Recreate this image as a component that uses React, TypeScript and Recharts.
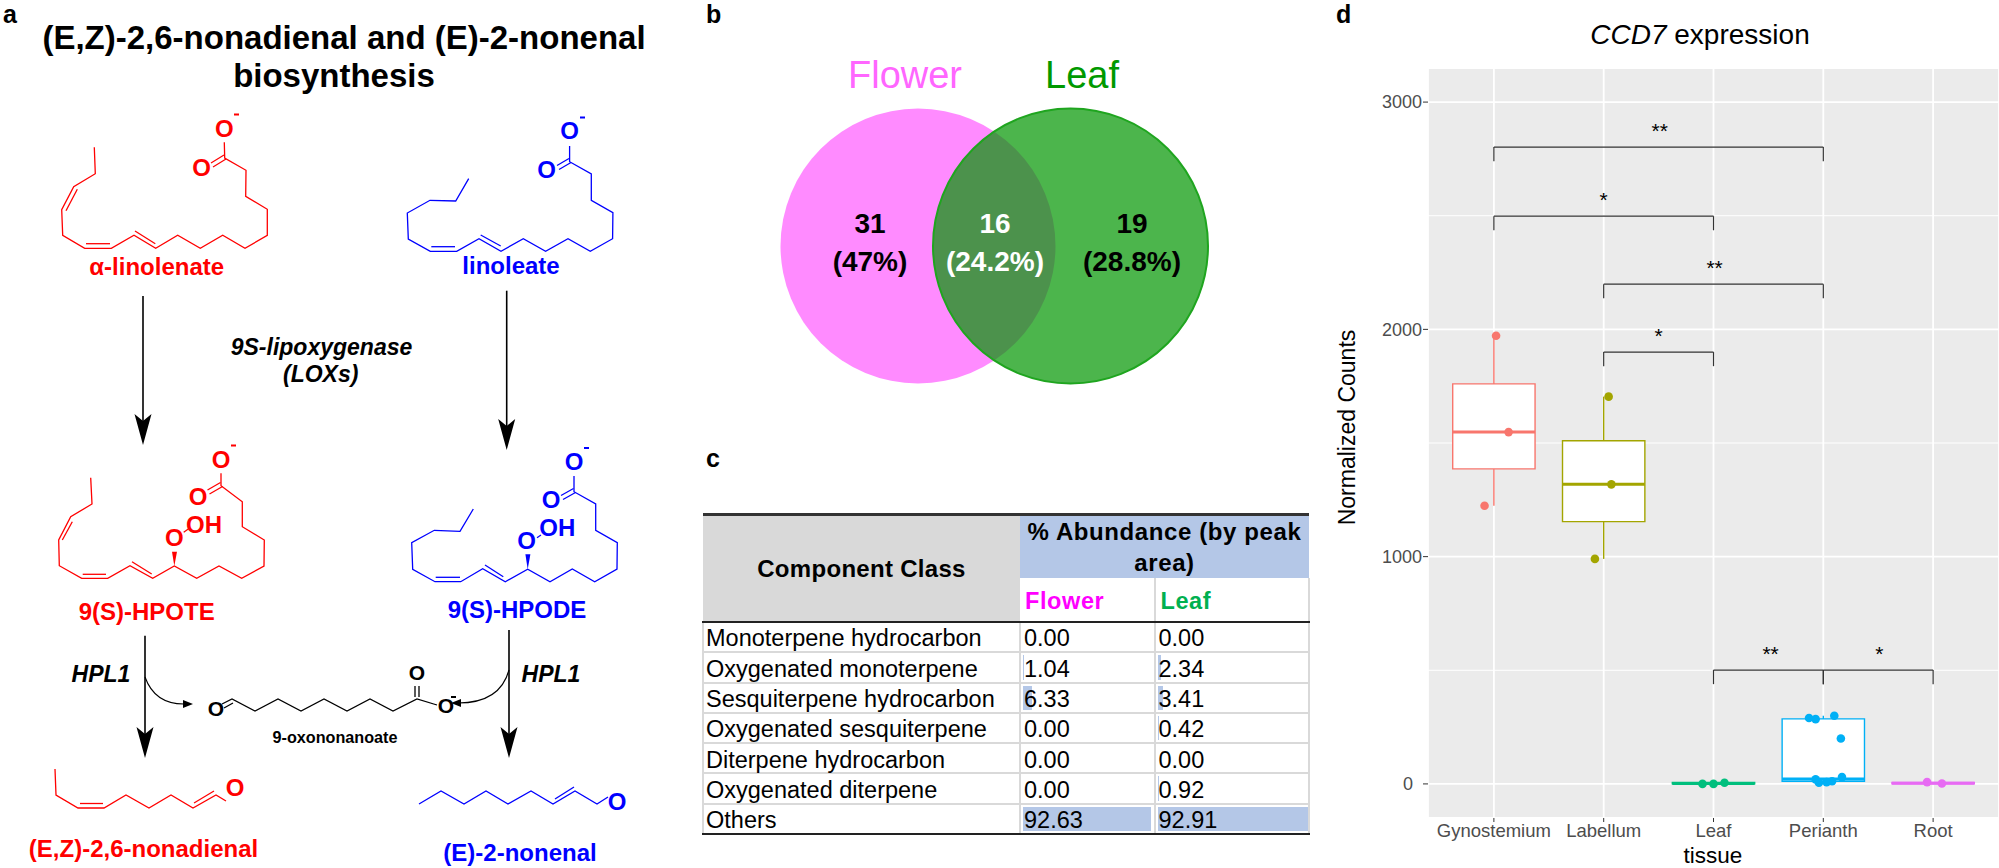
import {
    ScatterChart, Scatter, XAxis, YAxis, CartesianGrid, ReferenceArea, ReferenceLine, ReferenceDot,
} from 'recharts';

// panel d: box plot
const TISSUES = ['Gynostemium', 'Labellum', 'Leaf', 'Perianth', 'Root'];
const TISSUE_COLORS = ['#F8766D', '#A3A500', '#00BF7D', '#00B0F6', '#E76BF3'];
const Q3 = [1760, 1510, 6, 286, 6];
const MEDIAN = [1548, 1318, 2, 22, 3];
const Q1 = [1386, 1154, 0, 12, 1];
const WHISKER_HIGH = [1972, 1704, 8, 300, 8];
const WHISKER_LOW = [1224, 990, 0, 0, 0];
const POINT_X = [
    [1.02, 1.134, 0.915],
    [2.045, 2.07, 1.92],
    [2.9, 3.0, 3.1],
    [3.87, 3.93, 4.1, 4.16, 3.93, 3.96, 4.03, 4.08, 4.17],
    [4.945, 5.08],
];
const POINT_Y = [
    [1972, 1548, 1224],
    [1704, 1318, 990],
    [0, 0, 5],
    [290, 285, 300, 200, 20, 5, 8, 12, 30],
    [8, 2],
];
const Y_TICKS = [0, 1000, 2000, 3000];
const MINOR_TICKS = [500, 1500, 2500];
const BRACKET_FROM = [1, 1, 2, 2, 3, 4];
const BRACKET_TO = [4, 3, 4, 3, 4, 5];
const BRACKET_Y = [2802, 2498, 2199, 1900, 501, 501];
const STAR_TEXT = ['**', '*', '**', '*', '**', '*'];
const STAR_X = [2.51, 2.0, 3.01, 2.5, 3.52, 4.51];
const BOX_HALF = 0.375;

// panel b
const VENN_X = [158, 310.5];
const VENN_COLORS = ['#FF8BFF', 'rgba(0,149,0,0.7)'];

// panel c
const CLASSES = ['Monoterpene hydrocarbon', 'Oxygenated monoterpene', 'Sesquiterpene hydrocarbon', 'Oxygenated sesquiterpene', 'Diterpene hydrocarbon', 'Oxygenated diterpene', 'Others'];
const FLOWER = [0.0, 1.04, 6.33, 0.0, 0.0, 0.0, 92.63];
const LEAF = [0.0, 2.34, 3.41, 0.42, 0.0, 0.92, 92.91];

// panel a: drawn structures
type Pt = [number, number];
const RED = '#FF0000';
const BLUE = '#0000FF';

const LINOLENATE: Pt[] = [[94.3, 147.3], [95.3, 173.7], [73.7, 186.7], [61.7, 209.7], [62.7, 235.3], [84.7, 248.3], [111.3, 248.3], [134, 235.3], [155.7, 248.3], [177.7, 235.3], [200.3, 248.3], [222.7, 235.3], [245, 248.3], [267.3, 235.3], [267.3, 209.3], [245.7, 196.3], [246, 170.3], [224.7, 158], [224.3, 142.3]];
const LINOLENATE_INNER: Pt[][] = [[[77.3, 189.3], [66, 210.7]], [[86, 243.7], [110, 243.7]], [[135, 231], [155.3, 243.7]], [[224, 155], [211, 163]], [[226, 159], [213, 167]]];
const LINOLEATE: Pt[] = [[468.7, 178.7], [455.7, 201], [430, 200.3], [407.3, 213], [408.3, 239], [430.3, 251.3], [456.7, 251.3], [479, 238.7], [501, 251.3], [523.3, 238.7], [545.6, 251.3], [568, 238.7], [590.3, 251.3], [612.6, 238.7], [612.9, 212.7], [591.3, 200.3], [591.3, 174], [569.6, 161.7], [569.6, 146]];
const LINOLEATE_INNER: Pt[][] = [[[431.3, 246.7], [455, 246.7]], [[480.7, 235], [500.7, 246]], [[569, 158.5], [557, 165.5]], [[571, 162.5], [559, 169.5]]];
const HPOTE: Pt[] = [[90.7, 477.7], [92, 504], [70.7, 516.7], [58.7, 540], [59.3, 565.7], [81.7, 578.3], [107.7, 578.3], [130, 565.7], [152.7, 578.3], [174.3, 566], [196.7, 578.3], [219, 566], [241.7, 578.3], [264, 566], [264.3, 540], [242.3, 526.7], [242.3, 501.7], [221, 485.7], [221, 473.3]];
const HPOTE_INNER: Pt[][] = [[[72.3, 521.7], [62.3, 540]], [[82.7, 574.3], [106, 574.3]], [[132, 561.7], [151.7, 574]], [[220.5, 482.5], [207.5, 490]], [[222.5, 486.5], [209.5, 494]]];
const HPODE: Pt[] = [[473.3, 509], [460, 531.3], [434.3, 530.3], [411.7, 542.7], [412.7, 569.3], [435, 581.7], [460.7, 581.7], [482.7, 568.7], [505.3, 581.7], [527.7, 569.3], [550, 581.7], [572.3, 569], [594.7, 581.7], [617, 569], [617.3, 542.7], [595.7, 530.3], [595.7, 504], [574, 491.7], [574, 476]];
const HPODE_INNER: Pt[][] = [[[435.7, 577.3], [460, 577.3]], [[485, 565], [503.3, 576.7]], [[573.5, 488.5], [561, 495.5]], [[575.5, 492.5], [563, 499.5]]];
const NONADIENAL: Pt[] = [[55, 769], [56, 795], [78, 808], [104, 808], [126, 795], [149, 808], [171, 795], [193, 808], [216, 795], [226, 801]];
const NONADIENAL_INNER: Pt[][] = [[[80, 803.5], [103, 803.5]], [[194, 803], [214, 791]]];
const NONENAL: Pt[] = [[419, 804], [441, 791], [464, 804], [486, 791], [508, 804], [531, 791], [553, 804], [575, 791], [597, 804], [608, 797]];
const NONENAL_INNER: Pt[][] = [[[555, 799], [574, 787]]];
const OXO: Pt[] = [[222, 704], [232, 699], [255, 711], [278, 699], [301, 711], [324, 699], [347, 711], [370, 699], [393, 711], [417, 699], [437, 705]];
const OXO_INNER: Pt[][] = [[[224, 708], [233, 703]], [[415, 697], [415, 686]], [[419, 697], [419, 686]]];

const panelLabel = { fontSize: 25, fontWeight: 700 };

function Skeleton({ pts, inner, color }: { pts: Pt[]; inner: Pt[][]; color: string }) {
    return (
        <g fill="none" stroke={color} strokeWidth={1.3}>
            <polyline points={pts.map(p => p.join(',')).join(' ')} />
            {inner.map((seg, i) => (
                <line key={i} x1={seg[0][0]} y1={seg[0][1]} x2={seg[1][0]} y2={seg[1][1]} />
            ))}
        </g>
    );
}

function Atom({ x, y, color, size = 24, text = 'O' }: { x: number; y: number; color: string; size?: number; text?: string }) {
    return (
        <text x={x} y={y} fill={color} fontSize={size} fontWeight={700} textAnchor="middle" dominantBaseline="central">{text}</text>
    );
}

function Arrow({ x, y1, y2 }: { x: number; y1: number; y2: number }) {
    return (
        <g>
            <line x1={x} y1={y1} x2={x} y2={y2 - 20} stroke="#000" strokeWidth={1.6} />
            <polygon points={`${x},${y2} ${x - 8.5},${y2 - 31} ${x},${y2 - 24} ${x + 8.5},${y2 - 31}`} fill="#000" />
        </g>
    );
}

function Overlay() {
    return (
        <svg width={1999} height={868} style={{ position: 'absolute', left: 0, top: 0, pointerEvents: 'none' }}>
            <text x={3} y={23} {...panelLabel}>a</text>
            <text x={706} y={23} {...panelLabel}>b</text>
            <text x={706} y={467} {...panelLabel}>c</text>
            <text x={1336} y={23} {...panelLabel}>d</text>

            <g fontSize={33} fontWeight={700} textAnchor="middle">
                <text x={344} y={49}>(E,Z)-2,6-nonadienal and (E)-2-nonenal</text>
                <text x={334} y={87}>biosynthesis</text>
            </g>

            <Skeleton pts={LINOLENATE} inner={LINOLENATE_INNER} color={RED} />
            <Atom x={201.7} y={167} color={RED} />
            <Atom x={224.3} y={128.5} color={RED} />
            <rect x={234} y={113.5} width={5} height={2} fill={RED} />
            <Atom x={156.7} y={266} color={RED} text="α-linolenate" />

            <Skeleton pts={LINOLEATE} inner={LINOLEATE_INNER} color={BLUE} />
            <Atom x={546.6} y={169} color={BLUE} />
            <Atom x={569.6} y={130.6} color={BLUE} />
            <rect x={580} y={116.5} width={5} height={2} fill={BLUE} />
            <Atom x={511} y={265} color={BLUE} text="linoleate" />

            <Skeleton pts={HPOTE} inner={HPOTE_INNER} color={RED} />
            <Atom x={198} y={496.7} color={RED} />
            <Atom x={221} y={459} color={RED} />
            <rect x={231} y={444.5} width={5} height={2} fill={RED} />
            <polygon points="174.3,566 172,551.7 177,551.7" fill={RED} />
            <Atom x={174.3} y={537} color={RED} />
            <line x1={183.7} y1={532.3} x2={188.3} y2={529} stroke={RED} strokeWidth={1.2} />
            <Atom x={204} y={524.3} color={RED} text="OH" />
            <Atom x={146.7} y={611.7} color={RED} text="9(S)-HPOTE" />

            <Skeleton pts={HPODE} inner={HPODE_INNER} color={BLUE} />
            <Atom x={551} y={499.3} color={BLUE} />
            <Atom x={574} y={461} color={BLUE} />
            <rect x={584} y={447} width={5} height={2} fill={BLUE} />
            <polygon points="527.7,569.3 525.4,554.3 530.4,554.3" fill={BLUE} />
            <Atom x={526.7} y={540} color={BLUE} />
            <line x1={537} y1={537.7} x2={541} y2={535} stroke={BLUE} strokeWidth={1.2} />
            <Atom x={557.3} y={527.3} color={BLUE} text="OH" />
            <Atom x={517} y={609} color={BLUE} text="9(S)-HPODE" />

            <Arrow x={143} y1={296} y2={445} />
            <Arrow x={506.7} y1={290.7} y2={450} />
            <Arrow x={145} y1={635.7} y2={758} />
            <Arrow x={509} y1={630} y2={758} />

            <g fontSize={23} fontWeight={700} fontStyle="italic" textAnchor="middle">
                <text x={321.5} y={355}>9S-lipoxygenase</text>
                <text x={320.7} y={382}>(LOXs)</text>
                <text x={101} y={682}>HPL1</text>
                <text x={551} y={682}>HPL1</text>
            </g>

            <g fill="none" stroke="#000" strokeWidth={1.1}>
                <path d="M145,677 Q155,705 186,704" />
                <path d="M509,670 Q500,703 458,703" />
            </g>
            <polygon points="193,704 183,700 183,708" fill="#000" />
            <polygon points="451,703 461,699 461,707" fill="#000" />

            <Skeleton pts={OXO} inner={OXO_INNER} color="#000" />
            <Atom x={216} y={708} color="#000" size={21} />
            <Atom x={417} y={672.3} color="#000" size={21} />
            <Atom x={446} y={705} color="#000" size={21} />
            <rect x={451} y={696} width={5} height={2} fill="#000" />
            <Atom x={335} y={737} color="#000" size={16.2} text="9-oxononanoate" />

            <Skeleton pts={NONADIENAL} inner={NONADIENAL_INNER} color={RED} />
            <Atom x={235} y={787} color={RED} />
            <Atom x={143.5} y={848} color={RED} text="(E,Z)-2,6-nonadienal" />

            <Skeleton pts={NONENAL} inner={NONENAL_INNER} color={BLUE} />
            <Atom x={617} y={801} color={BLUE} />
            <Atom x={520} y={852} color={BLUE} text="(E)-2-nonenal" />

            <text x={905} y={88} fontSize={38} fill="#FF66FF" textAnchor="middle">Flower</text>
            <text x={1082} y={88} fontSize={38} fill="#009900" textAnchor="middle">Leaf</text>
            <g fontSize={28} fontWeight={700} textAnchor="middle">
                <text x={870} y={233}>31</text>
                <text x={870} y={271}>(47%)</text>
                <text x={995} y={233} fill="#fff">16</text>
                <text x={995} y={271} fill="#fff">(24.2%)</text>
                <text x={1132} y={233}>19</text>
                <text x={1132} y={271}>(28.8%)</text>
            </g>

            <text x={1700} y={44} fontSize={28} textAnchor="middle"><tspan fontStyle="italic">CCD7</tspan> expression</text>
            <text transform="translate(1355,427.5) rotate(-90)" fontSize={23} textAnchor="middle">Normalized Counts</text>
            <text x={1713} y={863} fontSize={22.5} textAnchor="middle">tissue</text>
        </svg>
    );
}

function VennChart() {
    const data = VENN_X.map((x, i) => ({ x, y: 154, i }));
    return (
        <div style={{ position: 'absolute', left: 760, top: 90 }}>
            <ScatterChart width={460} height={310} margin={{ top: 0, right: 0, bottom: 0, left: 0 }}>
                <XAxis type="number" dataKey="x" domain={[0, 460]} hide />
                <YAxis type="number" dataKey="y" domain={[0, 310]} hide />
                <Scatter
                    data={data}
                    isAnimationActive={false}
                    shape={(p: any) => (
                        <circle
                            cx={p.cx}
                            cy={p.cy}
                            r={137.5}
                            fill={VENN_COLORS[p.i]}
                            stroke={p.i === 1 ? '#1FA51F' : 'none'}
                            strokeWidth={2}
                        />
                    )}
                />
            </ScatterChart>
        </div>
    );
}

const cellLine = '2px solid #D9D9D9';

function BarCell({ value, max, width, last }: { value: number; max: number; width: number; last: boolean }) {
    return (
        <td style={{ padding: 0, borderBottom: last ? '2.5px solid #222' : cellLine, borderLeft: cellLine, borderRight: cellLine, position: 'relative' }}>
            <div style={{ position: 'absolute', left: 2, top: 2, bottom: 2, width: (value / max) * width, background: '#B4C7E7' }} />
            <span style={{ position: 'relative', top: 2, paddingLeft: 3 }}>{value.toFixed(2)}</span>
        </td>
    );
}

function AbundanceTable() {
    const max = 92.91;
    return (
        <table style={{ position: 'absolute', left: 702, top: 513, width: 606, tableLayout: 'fixed', borderCollapse: 'collapse', fontSize: 23.5, lineHeight: 1, color: '#000', borderTop: '3px solid #333' }}>
            <colgroup>
                <col style={{ width: 317 }} />
                <col style={{ width: 134.5 }} />
                <col style={{ width: 154.5 }} />
            </colgroup>
            <tbody>
                <tr style={{ height: 62 }}>
                    <td rowSpan={2} style={{ background: '#D9D9D9', textAlign: 'center', fontWeight: 700, fontSize: 24, letterSpacing: 0.3, padding: 0, borderBottom: '2.5px solid #222' }}>Component Class</td>
                    <td colSpan={2} style={{ background: '#B4C7E7', textAlign: 'center', fontWeight: 700, fontSize: 24, letterSpacing: 0.6, lineHeight: '31px', padding: 0 }}>% Abundance (by peak area)</td>
                </tr>
                <tr style={{ height: 44 }}>
                    <td style={{ color: '#FF00FF', fontWeight: 700, padding: '5px 0 0 5px', letterSpacing: 0.6, borderBottom: '2.5px solid #222', borderRight: cellLine }}>Flower</td>
                    <td style={{ color: '#00B050', fontWeight: 700, padding: '5px 0 0 5px', letterSpacing: 0.6, borderBottom: '2.5px solid #222', borderRight: cellLine }}>Leaf</td>
                </tr>
                {CLASSES.map((c, i) => {
                    const last = i === CLASSES.length - 1;
                    return (
                        <tr key={c} style={{ height: 30.3 }}>
                            <td style={{ padding: '0 0 0 2px', borderBottom: last ? '2.5px solid #222' : cellLine, borderLeft: cellLine, whiteSpace: 'nowrap' }}>
                                <span style={{ position: 'relative', top: 2 }}>{c}</span>
                            </td>
                            <BarCell value={FLOWER[i]} max={max} width={128} last={last} />
                            <BarCell value={LEAF[i]} max={max} width={150} last={last} />
                        </tr>
                    );
                })}
            </tbody>
        </table>
    );
}

function BoxChart() {
    return (
        <div style={{ position: 'absolute', left: 1340, top: 0 }}>
            <ScatterChart width={659} height={868} margin={{ top: 68, right: 0, bottom: 0, left: 0 }}>
                <CartesianGrid fill="#EBEBEB" stroke="#FFFFFF" strokeWidth={1.8} />
                <CartesianGrid horizontalValues={MINOR_TICKS} vertical={false} stroke="#FFFFFF" strokeWidth={1} />
                <XAxis
                    type="number"
                    dataKey="x"
                    domain={[0.4, 5.6]}
                    ticks={[1, 2, 3, 4, 5]}
                    interval={0}
                    tickFormatter={(v: number) => TISSUES[v - 1]}
                    height={50}
                    axisLine={false}
                    tickSize={4}
                    tickMargin={2}
                    tickLine={{ stroke: '#333333' }}
                    tick={{ fontSize: 18.5, fill: '#4D4D4D' }}
                />
                <YAxis
                    type="number"
                    dataKey="y"
                    domain={[-150, 3150]}
                    ticks={Y_TICKS}
                    width={88}
                    axisLine={false}
                    tickSize={5}
                    tickMargin={1}
                    tickLine={{ stroke: '#333333' }}
                    tick={{ fontSize: 18, fill: '#4D4D4D' }}
                    tickFormatter={(v: number) => (v === 0 ? '0\u2002' : String(v))}
                />
                {TISSUES.map((t, i) => (
                    <ReferenceLine key={`wh-${t}`} segment={[{ x: i + 1, y: Q3[i] }, { x: i + 1, y: WHISKER_HIGH[i] }]} stroke={TISSUE_COLORS[i]} strokeWidth={1.4} />
                ))}
                {TISSUES.map((t, i) => (
                    <ReferenceLine key={`wl-${t}`} segment={[{ x: i + 1, y: Q1[i] }, { x: i + 1, y: WHISKER_LOW[i] }]} stroke={TISSUE_COLORS[i]} strokeWidth={1.4} />
                ))}
                {TISSUES.map((t, i) => (
                    <ReferenceArea key={`box-${t}`} x1={i + 1 - BOX_HALF} x2={i + 1 + BOX_HALF} y1={Q1[i]} y2={Q3[i]} fill="#FFFFFF" fillOpacity={1} stroke={TISSUE_COLORS[i]} strokeWidth={1.4} />
                ))}
                {TISSUES.map((t, i) => (
                    <ReferenceLine key={`med-${t}`} segment={[{ x: i + 1 - BOX_HALF, y: MEDIAN[i] }, { x: i + 1 + BOX_HALF, y: MEDIAN[i] }]} stroke={TISSUE_COLORS[i]} strokeWidth={3} />
                ))}
                {BRACKET_Y.map((y, i) => (
                    <ReferenceLine key={`br-${i}`} segment={[{ x: BRACKET_FROM[i], y }, { x: BRACKET_TO[i], y }]} stroke="#333333" strokeWidth={1.2} />
                ))}
                {BRACKET_Y.map((y, i) => (
                    <ReferenceLine key={`bl-${i}`} segment={[{ x: BRACKET_FROM[i], y }, { x: BRACKET_FROM[i], y: y - 62 }]} stroke="#333333" strokeWidth={1.2} />
                ))}
                {BRACKET_Y.map((y, i) => (
                    <ReferenceLine key={`brr-${i}`} segment={[{ x: BRACKET_TO[i], y }, { x: BRACKET_TO[i], y: y - 62 }]} stroke="#333333" strokeWidth={1.2} />
                ))}
                {BRACKET_Y.map((y, i) => (
                    <ReferenceDot
                        key={`star-${i}`}
                        x={STAR_X[i]}
                        y={y + 72}
                        r={0}
                        stroke="none"
                        label={{ value: STAR_TEXT[i], position: 'center', fontSize: 21, fill: '#000' }}
                    />
                ))}
                {TISSUES.map((t, i) => (
                    <Scatter
                        key={t}
                        data={POINT_X[i].map((x, k) => ({ x, y: POINT_Y[i][k] }))}
                        isAnimationActive={false}
                        shape={(p: any) => <circle cx={p.cx} cy={p.cy} r={4.3} fill={TISSUE_COLORS[i]} />}
                    />
                ))}
            </ScatterChart>
        </div>
    );
}

export default function App() {
    return (
        <div style={{ position: 'absolute', left: 0, top: 0, width: 1999, height: 868, overflow: 'hidden', background: '#fff', fontFamily: '"Liberation Sans", Arial, sans-serif' }}>
            <VennChart />
            <AbundanceTable />
            <BoxChart />
            <Overlay />
        </div>
    );
}
